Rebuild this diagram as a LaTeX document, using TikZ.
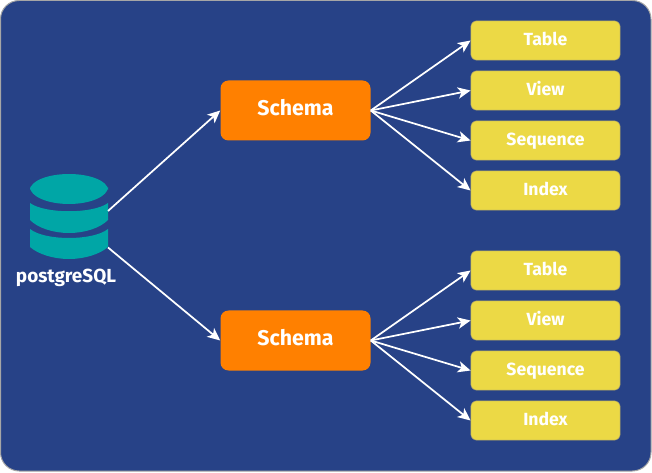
\documentclass[tikz,border=0pt]{standalone}
\usepackage{xcolor}
\usepackage{fontspec}
\setmainfont{Fira Sans}
\usetikzlibrary{arrows.meta}
\definecolor{panelblue}{HTML}{274287}
\definecolor{schemaorange}{HTML}{FF8000}
\definecolor{leafyellow}{HTML}{ECD945}
\definecolor{dbteal}{HTML}{00A6A6}
\tikzstyle{panel} = [fill=panelblue, draw=gray!70, line width=0.75pt, rounded corners=14pt]
\tikzstyle{schema} = [rectangle, rounded corners=6pt, white, fill=schemaorange,
                      minimum width=112.5pt, minimum height=45pt, align=center,
                      text height=11pt, text depth=3pt,
                      font=\fontsize{16}{18}\selectfont\bfseries]
\tikzstyle{leaf} = [rectangle, rounded corners=4.5pt, white, draw=gray!70!leafyellow, line width=0.4pt, fill=leafyellow,
                    minimum width=112pt, minimum height=29.5pt, align=center,
                    text height=9.5pt, text depth=2.5pt,
                    font=\fontsize{13.2}{15}\selectfont\bfseries]
\tikzstyle{dbbox} = [rectangle, minimum width=58.5pt, minimum height=66.75pt, inner sep=0pt]
\tikzstyle{dbpart} = [fill=dbteal]
\tikzstyle{dblabel} = [white, font=\fontsize{14.2}{16}\selectfont\bfseries]
\tikzstyle{link} = [white, line width=1.3pt, -{Stealth[length=9.5pt,width=8.5pt,inset=2.5pt]}]

\begin{document}
\begin{tikzpicture}[x=0.75pt,y=-0.75pt]
    \useasboundingbox (0,0) rectangle (652,473);
    \draw[panel] (0.5,0.5) rectangle (651,471);
    % database
    \node[dbbox] (db) at (69,214.5) {};
    \node[dblabel] (dbname) [below of=db,node distance=47.5pt,xshift=-2.25pt] {postgreSQL};
    \fill[dbpart] (30,187) arc[x radius=39,y radius=17,start angle=180,end angle=0] -- (108,190) arc[x radius=39,y radius=16,start angle=0,end angle=-180] -- cycle;
    \fill[dbpart] (30,203) .. controls (45,214) and (93,214) .. (108,203) -- (108,220) .. controls (100,228) and (85,233) .. (69,233) .. controls (53,233) and (38,228) .. (30,220) -- cycle;
    \fill[dbpart] (30,229) .. controls (45,241) and (93,241) .. (108,229) -- (108,247) .. controls (100,254) and (85,259) .. (69,259) .. controls (53,259) and (38,254) .. (30,247) -- cycle;
    \coordinate (dbup) at (108,211);
    \coordinate (dbdown) at (108,247.5);
    % upper branch
    \node[schema] (schema1) at (295.5,110.5) {Schema};
    \node[leaf] (table1) at (545.5,40.5) {Table};
    \node[leaf] (view1) [below of=table1,node distance=37.5pt] {View};
    \node[leaf] (sequence1) [below of=view1,node distance=37.5pt] {Sequence};
    \node[leaf] (index1) [below of=sequence1,node distance=37.5pt] {Index};
    % lower branch
    \node[schema] (schema2) [below of=schema1,node distance=172.5pt] {Schema};
    \node[leaf] (table2) [below of=index1,node distance=60pt] {Table};
    \node[leaf] (view2) [below of=table2,node distance=37.5pt] {View};
    \node[leaf] (sequence2) [below of=view2,node distance=37.5pt] {Sequence};
    \node[leaf] (index2) [below of=sequence2,node distance=37.5pt] {Index};
    \draw[link] (dbup) -- (schema1.west);
    \draw[link] (dbdown) -- (schema2.west);
    \draw[link] (schema1.east) -- (table1.west);
    \draw[link] (schema1.east) -- (view1.west);
    \draw[link] (schema1.east) -- (sequence1.west);
    \draw[link] (schema1.east) -- (index1.west);
    \draw[link] (schema2.east) -- (table2.west);
    \draw[link] (schema2.east) -- (view2.west);
    \draw[link] (schema2.east) -- (sequence2.west);
    \draw[link] (schema2.east) -- (index2.west);
  \end{tikzpicture}
\end{document}
